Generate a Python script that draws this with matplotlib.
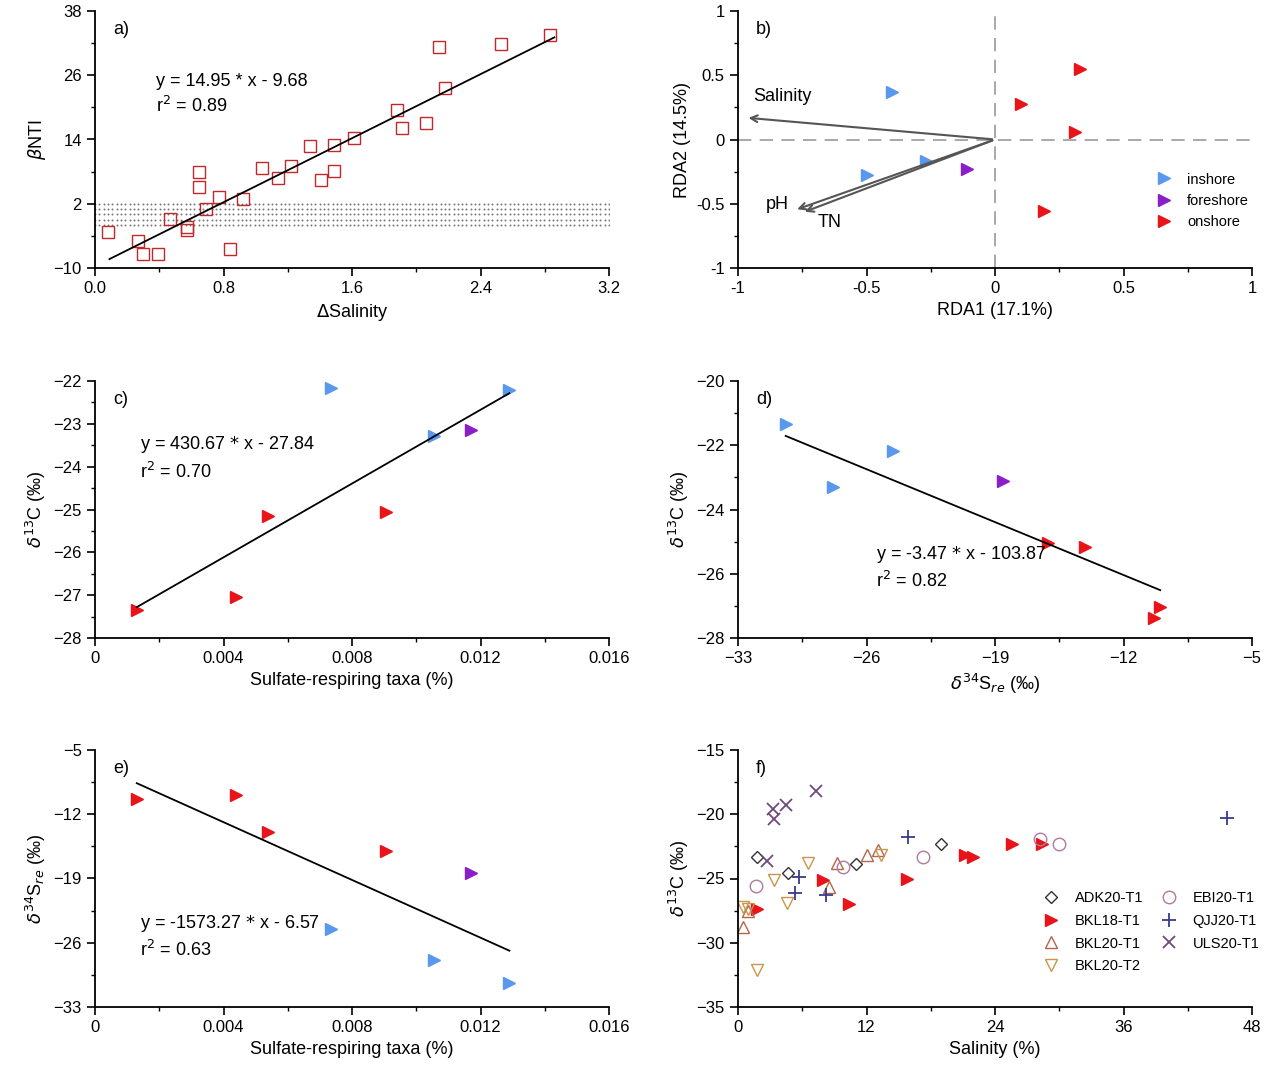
import matplotlib.pyplot as plt
import numpy as np
from matplotlib.ticker import AutoMinorLocator

plt.rcParams['font.family'] = ['Liberation Sans', 'DejaVu Sans']
plt.rcParams['font.size'] = 12

BLUE, PURPLE, RED = '#5a98ee', '#8a1ec8', '#e8141a'

# panel a
sal_a = [0.08, 0.27, 0.30, 0.39, 0.47, 0.57, 0.57, 0.65, 0.65, 0.69, 0.77, 0.84, 0.92, 1.04,
         1.14, 1.22, 1.34, 1.41, 1.49, 1.49, 1.61, 1.88, 1.91, 2.06, 2.14, 2.18, 2.53, 2.83]
bnti = [-3.3, -4.9, -7.4, -7.4, -0.85, -2.4, -2.9, 5.1, 8.0, 1.1, 3.3, -6.5, 2.8, 8.6,
        6.9, 9.0, 12.8, 6.4, 13.0, 8.1, 14.3, 19.5, 16.1, 17.0, 31.3, 23.6, 31.8, 33.5]
fit_a = (14.95, -9.68)
fit_a_x = [0.09, 2.86]

# panel b (RDA)
rda_in = ([-0.40, -0.50, -0.27], [0.37, -0.28, -0.17])
rda_fore = ([-0.11], [-0.23])
rda_on = ([0.33, 0.10, 0.31, 0.19], [0.55, 0.28, 0.06, -0.56])
arrows = {'Salinity': (-0.97, 0.17), 'pH': (-0.78, -0.55), 'TN': (-0.75, -0.57)}

# panels c, e: sulfate-respiring taxa
srt_in, d13c_in_c, d34s_in = [0.00735, 0.0129, 0.01055], [-22.16, -22.21, -23.29], [-24.5, -30.4, -27.9]
srt_fore, d13c_fore_c, d34s_fore = [0.0117], [-23.14], [-18.4]
srt_on = [0.0054, 0.00906, 0.0044, 0.0013]
d13c_on_c = [-25.15, -25.06, -27.05, -27.35]
d34s_on = [-13.93, -16.0, -9.9, -10.34]
fit_c = (430.67, -27.84)
fit_e = (-1573.27, -6.57)
fit_x = [0.0013, 0.0129]

# panel d
d34_in, d13_in = [-30.39, -24.57, -27.83], [-21.34, -22.18, -23.3]
d34_fore, d13_fore = [-18.54], [-23.1]
d34_on, d13_on = [-16.1, -14.08, -10.0, -10.33], [-25.05, -25.17, -27.04, -27.38]
line_d_x, line_d_y = [-30.4, -10.0], [-21.71, -26.51]

# panel f
sites = {
    'ADK20-T1': ([1.74, 4.63, 11.0, 18.95], [-23.35, -24.55, -23.9, -22.3]),
    'BKL18-T1': ([1.74, 7.9, 10.4, 15.8, 21.2, 21.9, 25.6, 28.4], [-27.4, -25.1, -27.0, -25.0, -23.2, -23.3, -22.3, -22.3]),
    'BKL20-T1': ([0.44, 0.96, 9.29, 8.5, 12.0, 13.05], [-28.8, -27.5, -23.8, -25.7, -23.2, -22.8]),
    'BKL20-T2': ([0.5, 0.9, 1.74, 3.33, 4.54, 6.5, 13.4], [-27.2, -27.4, -32.1, -25.1, -26.9, -23.8, -23.2]),
    'EBI20-T1': ([1.71, 9.8, 17.3, 28.2, 30.0], [-25.6, -24.1, -23.3, -21.9, -22.3]),
    'QJJ20-T1': ([15.9, 5.7, 5.33, 8.2, 45.7], [-21.8, -24.9, -26.1, -26.3, -20.3]),
    'ULS20-T1': ([7.3, 3.23, 3.4, 4.45, 2.67], [-18.2, -19.6, -20.4, -19.3, -23.6]),
}
site_style = {
    'ADK20-T1': dict(marker='D', mfc='none', color='#333333', ms=6),
    'BKL18-T1': dict(marker='>', mfc=RED, color=RED, ms=9),
    'BKL20-T1': dict(marker='^', mfc='none', color='#b5654a', ms=8),
    'BKL20-T2': dict(marker='v', mfc='none', color='#c8964a', ms=8),
    'EBI20-T1': dict(marker='o', mfc='none', color='#b07aa1', ms=9),
    'QJJ20-T1': dict(marker='+', color='#3a3a8c', ms=10, mew=1.3),
    'ULS20-T1': dict(marker='x', color='#6e4a7e', ms=9, mew=1.3),
}

fig = plt.figure(figsize=(12.67, 10.77), dpi=100)
W, H = 514 / 1267, 257 / 1077
lefts = [95 / 1267, 738 / 1267]
bottoms = [1 - 268 / 1077, 1 - 638 / 1077, 1 - 1007 / 1077]
axes = [fig.add_axes([lefts[i % 2], bottoms[i // 2], W, H]) for i in range(6)]


def style(ax, xl, yl, xt, yt, letter):
    ax.set_xlim(xt[0], xt[-1])
    ax.set_ylim(yt[0], yt[-1])
    ax.set_xticks(xt)
    ax.set_yticks(yt)
    ax.xaxis.set_minor_locator(AutoMinorLocator(2))
    ax.yaxis.set_minor_locator(AutoMinorLocator(2))
    ax.tick_params(which='major', direction='out', length=6, width=1.2)
    ax.tick_params(which='minor', direction='out', length=3, width=1)
    for s in ['top', 'right']:
        ax.spines[s].set_visible(False)
    for s in ['left', 'bottom']:
        ax.spines[s].set_linewidth(1.3)
    ax.set_xlabel(xl, fontsize=13)
    ax.set_ylabel(yl, fontsize=13)
    ax.text(0.035, 0.96, letter, transform=ax.transAxes, fontsize=13, va='top')


tri = dict(marker='>', ls='none', ms=8)

# a
ax = axes[0]
xx = np.linspace(0, 3.2, 120)
yy = np.linspace(-2, 2, 5)
X, Y = np.meshgrid(xx, yy)
ax.scatter(X.ravel(), Y.ravel(), s=2, color='#777777', lw=0)
ax.plot(sal_a, bnti, 's', mfc='none', mec='#c0282a', ms=9, mew=1)
ax.plot(fit_a_x, [fit_a[0] * v + fit_a[1] for v in fit_a_x], 'k-', lw=1.3)
ax.text(0.38, 26.5, 'y = 14.95 * x - 9.68\nr$^2$ = 0.89', fontsize=13, va='top', linespacing=1.4)
style(ax, r'$\Delta$Salinity', r'$\beta$NTI', [0, 0.8, 1.6, 2.4, 3.2], [-10, 2, 14, 26, 38], 'a)')

# b
ax = axes[1]
ax.axhline(0, color='#999999', ls=(0, (8, 5)), lw=1.2)
ax.axvline(0, color='#999999', ls=(0, (8, 5)), lw=1.2)
ax.plot(*rda_in, color=BLUE, label='inshore', **tri)
ax.plot(*rda_fore, color=PURPLE, label='foreshore', **tri)
ax.plot(*rda_on, color=RED, label='onshore', **tri)
for name, (ex, ey) in arrows.items():
    ax.annotate('', xy=(ex, ey), xytext=(0, 0),
                arrowprops=dict(arrowstyle='->', color='#555555', lw=1.5))
ax.text(-0.94, 0.3, 'Salinity', fontsize=13)
ax.text(-0.89, -0.54, 'pH', fontsize=13)
ax.text(-0.69, -0.68, 'TN', fontsize=13)
ax.legend(loc='lower right', frameon=False, fontsize=10.5, handletextpad=0.6,
          bbox_to_anchor=(1.02, 0.1))
style(ax, 'RDA1 (17.1%)', 'RDA2 (14.5%)', [-1, -0.5, 0, 0.5, 1], [-1, -0.5, 0, 0.5, 1], 'b)')
ax.set_xticklabels(['-1', '-0.5', '0', '0.5', '1'])
ax.set_yticklabels(['-1', '-0.5', '0', '0.5', '1'])

# c
ax = axes[2]
ax.plot(srt_in, d13c_in_c, color=BLUE, **tri)
ax.plot(srt_fore, d13c_fore_c, color=PURPLE, **tri)
ax.plot(srt_on, d13c_on_c, color=RED, **tri)
ax.plot(fit_x, [fit_c[0] * v + fit_c[1] for v in fit_x], 'k-', lw=1.3)
ax.text(0.0014, -23.8, 'y = 430.67 $*$ x - 27.84\nr$^2$ = 0.70', fontsize=13, va='center', linespacing=1.4)
style(ax, 'Sulfate-respiring taxa (%)', r'$\delta^{13}$C (‰)', [0, 0.004, 0.008, 0.012, 0.016],
      [-28, -27, -26, -25, -24, -23, -22], 'c)')
ax.set_xticklabels(['0', '0.004', '0.008', '0.012', '0.016'])

# d
ax = axes[3]
ax.plot(d34_in, d13_in, color=BLUE, **tri)
ax.plot(d34_fore, d13_fore, color=PURPLE, **tri)
ax.plot(d34_on, d13_on, color=RED, **tri)
ax.plot(line_d_x, line_d_y, 'k-', lw=1.3)
ax.text(-25.5, -25.8, 'y = -3.47 $*$ x - 103.87\nr$^2$ = 0.82', fontsize=13, va='center', linespacing=1.4)
style(ax, r'$\delta^{34}$S$_{re}$ (‰)', r'$\delta^{13}$C (‰)', [-33, -26, -19, -12, -5],
      [-28, -26, -24, -22, -20], 'd)')

# e
ax = axes[4]
ax.plot(srt_in, d34s_in, color=BLUE, **tri)
ax.plot(srt_fore, d34s_fore, color=PURPLE, **tri)
ax.plot(srt_on, d34s_on, color=RED, **tri)
ax.plot(fit_x, [fit_e[0] * v + fit_e[1] for v in fit_x], 'k-', lw=1.3)
ax.text(0.0014, -25.3, 'y = -1573.27 $*$ x - 6.57\nr$^2$ = 0.63', fontsize=13, va='center', linespacing=1.4)
style(ax, 'Sulfate-respiring taxa (%)', r'$\delta^{34}$S$_{re}$ (‰)', [0, 0.004, 0.008, 0.012, 0.016],
      [-33, -26, -19, -12, -5], 'e)')
ax.set_xticklabels(['0', '0.004', '0.008', '0.012', '0.016'])

# f
ax = axes[5]
for name, (sx, sy) in sites.items():
    ax.plot(sx, sy, ls='none', label=name, **site_style[name])
ax.legend(loc='lower right', ncol=2, frameon=False, fontsize=10.5, bbox_to_anchor=(1.04, 0.08),
          columnspacing=0.8, handletextpad=0.6, labelspacing=0.6)
style(ax, 'Salinity (%)', r'$\delta^{13}$C (‰)', [0, 12, 24, 36, 48], [-35, -30, -25, -20, -15], 'f)')

fig.savefig('out.png', dpi=100)
